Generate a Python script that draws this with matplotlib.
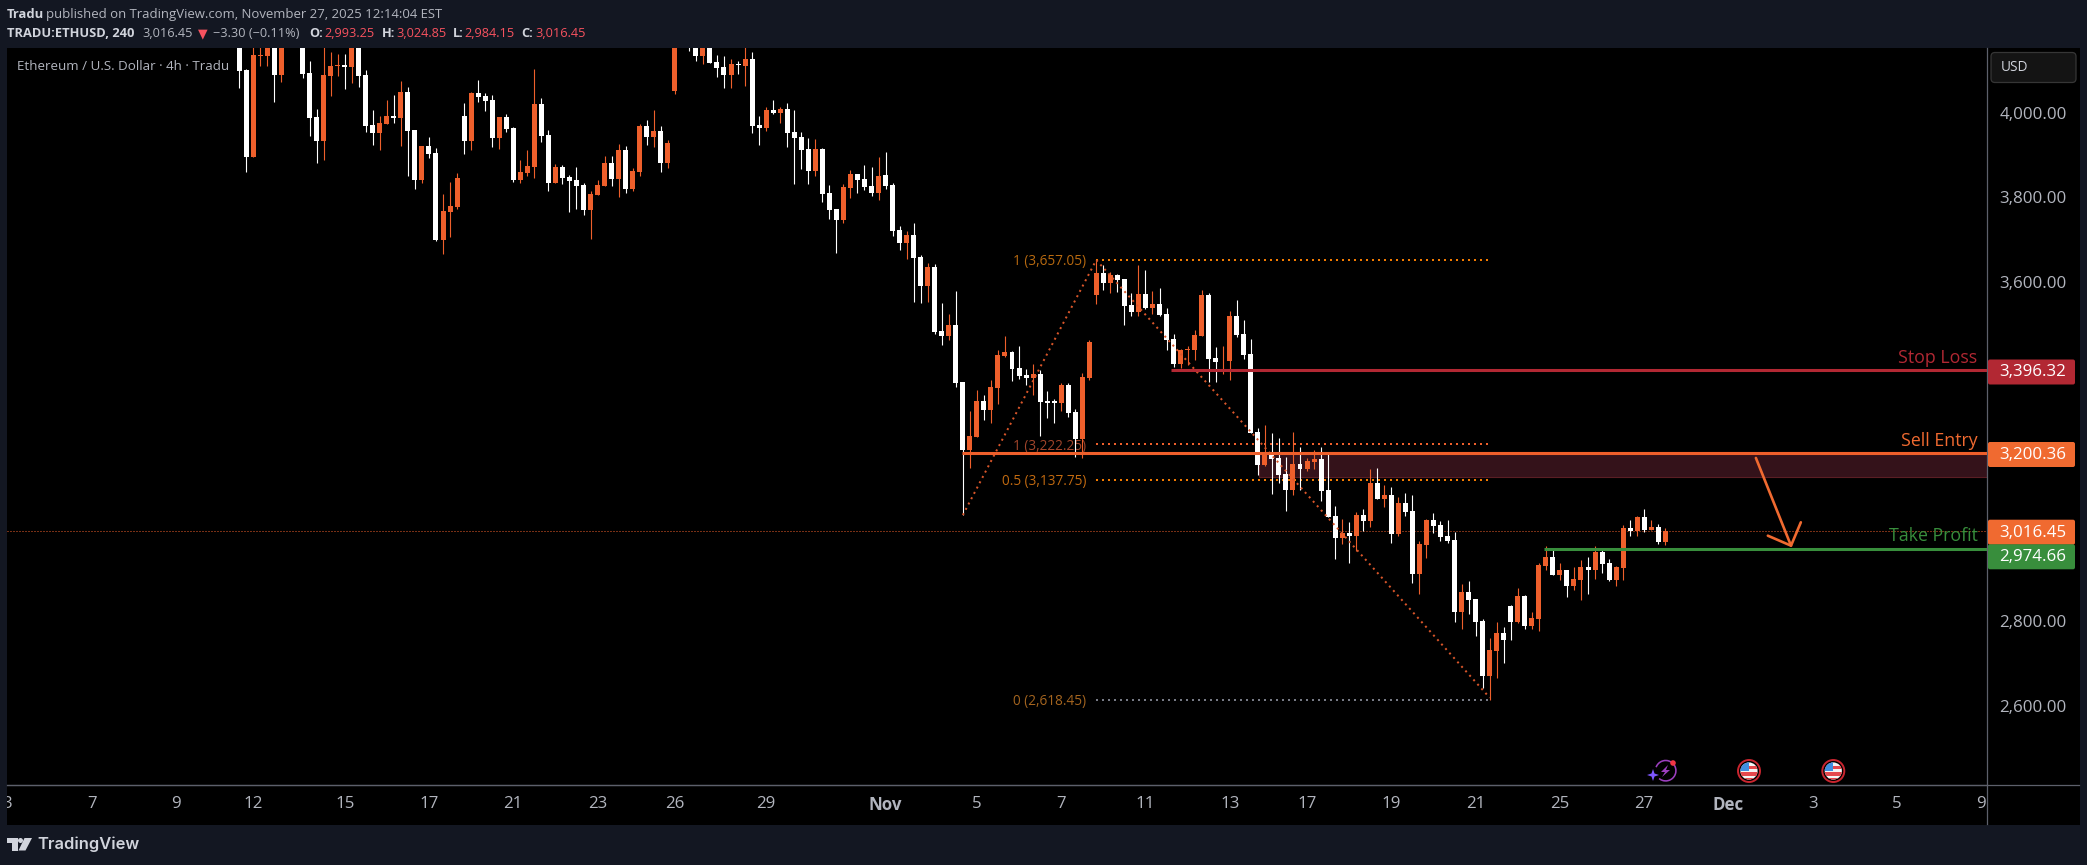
import numpy as np
import matplotlib
matplotlib.use("Agg")
import matplotlib.pyplot as plt
from matplotlib.patches import Rectangle, FancyBboxPatch, Circle, Polygon, Wedge

plt.rcParams['font.family'] = ['Open Sans', 'DejaVu Sans']

nan = np.nan

# 4h candles, hidden ones (above the pane) are nan
opens = [
    4170,4105,3900,4139,4139,4170,4094,nan,nan,4170,
    4098,3995,3938,4091,4115,4117,4113,4170,4094,3976,
    3957,3978,3997,3992,4054,3964,3846,3926,3910,3704,
    3770,3782,3997,3938,4051,4044,4035,3945,3995,3969,
    3846,3862,3877,4025,3952,3839,3877,3853,3846,3834,
    3775,3810,3832,3886,3848,3917,3825,3865,3973,3947,
    3961,3886,4056,nan,4190,4170,4139,4170,4124,4113,
    4094,4120,4115,4131,3976,3969,4011,4004,4013,3959,
    3947,3919,3867,3919,3815,3777,3751,3827,3860,3848,
    3832,3815,3858,3834,3728,3697,3716,3664,3596,3640,
    3490,3478,3504,3369,3209,3239,3324,3303,3355,3431,
    3440,3402,3386,3379,3388,3324,3324,3320,3362,3298,
    3235,3379,3574,3626,3603,3622,3612,3551,3534,3577,
    3544,3553,3530,3471,3412,3444,3445,3478,3574,3426,
    3420,3419,3525,3482,3435,3251,3173,3204,3190,3152,
    3114,3176,3164,3180,3187,3114,3053,3001,3013,3006,
    3055,3041,3131,3093,3102,3010,3084,3065,2916,2984,
    3043,3032,3006,2996,2826,2873,2857,2805,2675,2734,
    2777,2840,2803,2864,2793,2810,2935,2956,2914,2925,
    2888,2902,2932,2925,2968,2942,2902,2930,3025,3017,
    3050,3020,3027,2991,
]
closes = [
    4103,3900,4141,4141,4165,4094,4170,nan,nan,4096,
    3992,3938,4094,4115,4117,4113,4170,4091,3973,3957,
    3980,3997,3992,4054,3961,3846,3926,3907,3704,3773,
    3784,3851,3938,4051,4042,4032,3945,3995,3966,3846,
    3865,3879,4025,3950,3839,3877,3851,3843,3832,3775,
    3813,3834,3886,3848,3917,3825,3867,3973,3947,3961,
    3886,3933,4170,nan,4170,4139,4170,4122,4110,4094,
    4120,4117,4131,3973,3969,4011,4004,4013,3957,3945,
    3917,3867,3919,3813,3775,3751,3829,3860,3846,3829,
    3815,3855,3832,3725,3697,3716,3662,3596,3640,3487,
    3478,3504,3367,3209,3242,3324,3303,3357,3433,3440,
    3400,3383,3379,3388,3322,3320,3320,3362,3296,3235,
    3381,3464,3626,3603,3622,3610,3549,3534,3577,3544,
    3553,3527,3468,3412,3445,3447,3480,3574,3423,3416,
    3421,3525,3480,3433,3249,3173,3204,3187,3150,3114,
    3176,3164,3183,3187,3112,3050,3001,3013,3006,3055,
    3041,3131,3093,3102,3010,3084,3062,2916,2987,3043,
    3029,3003,2994,2826,2873,2855,2803,2675,2737,2777,
    2760,2803,2864,2793,2812,2937,2956,2914,2925,2888,
    2904,2932,2925,2968,2939,2902,2932,3025,3017,3050,
    3020,3027,2991,3017,
]
highs = [
    4185,4108,4175,4170,4175,4180,4180,nan,nan,4180,
    4127,4013,4175,4148,4143,4143,4175,4175,4105,4011,
    3997,4035,4046,4080,4065,3964,3926,3947,3921,3813,
    3841,3862,4028,4054,4082,4051,4046,3995,4002,3971,
    3893,3917,4108,4039,3964,3884,3881,3858,3877,3839,
    3820,3846,3902,3902,3931,3926,3874,3978,3987,4011,
    3973,3940,4180,nan,4195,4175,4175,4175,4141,4139,
    4131,4127,4170,4148,3997,4018,4035,4018,4028,4011,
    3959,3945,3943,3921,3834,3777,3836,3869,3860,3881,
    3877,3900,3912,3839,3737,3725,3744,3669,3650,3648,
    3556,3530,3584,3369,3301,3350,3338,3374,3445,3478,
    3442,3454,3400,3412,3397,3348,3329,3367,3367,3305,
    3390,3468,3657,3645,3629,3624,3612,3579,3645,3633,
    3584,3591,3544,3482,3447,3454,3492,3586,3579,3452,
    3454,3537,3563,3515,3471,3261,3268,3249,3237,3192,
    3251,3216,3190,3209,3216,3204,3076,3046,3039,3062,
    3069,3164,3166,3126,3121,3098,3107,3102,2994,3046,
    3060,3041,3043,3015,2892,2899,2857,2810,2765,2803,
    2791,2843,2883,2866,2826,2942,2982,2977,2942,2925,
    2932,2949,2956,2982,2973,2951,2935,3032,3043,3053,
    3069,3043,3034,3024,
]
lows = [
    4063,3865,3900,4115,4115,4030,4077,nan,nan,4087,
    3950,3886,3893,4044,4091,4061,4075,4065,3959,3928,
    3917,3978,3980,3926,3855,3825,3839,3898,3702,3671,
    3711,3777,3907,3917,4030,4009,3924,3919,3959,3841,
    3839,3855,3851,3936,3820,3839,3836,3770,3777,3763,
    3707,3810,3832,3832,3806,3815,3820,3855,3928,3924,
    3865,3874,4049,nan,4150,4127,4120,4122,4089,4063,
    4063,4096,4068,3957,3928,3961,4002,3980,3924,3836,
    3872,3836,3855,3794,3754,3674,3744,3803,3815,3822,
    3808,3799,3825,3714,3681,3659,3558,3556,3558,3482,
    3456,3468,3357,3055,3166,3239,3279,3272,3317,3428,
    3371,3376,3362,3338,3242,3284,3272,3301,3287,3192,
    3190,3374,3553,3586,3579,3582,3504,3525,3525,3541,
    3530,3525,3445,3405,3402,3409,3421,3478,3369,3369,
    3388,3374,3475,3423,3249,3150,3171,3105,3131,3065,
    3102,3114,3159,3164,3088,3050,2951,2987,2942,2970,
    3017,3027,3093,3074,2989,3006,3053,2895,2869,2954,
    3013,2994,2989,2803,2786,2821,2770,2647,2618,2670,
    2706,2760,2800,2786,2786,2781,2925,2914,2902,2862,
    2878,2855,2869,2904,2918,2899,2888,2902,3006,3006,
    3015,3020,2987,2984,
]

# 3,000 / 3,200 / 3,400 sit behind the price badges
price_ticks = [2600, 2800, 3600, 3800, 4000]
date_labels = ["3","7","9","12","15","17","21","23","26","29","Nov","5","7","11","13",
               "17","19","21","25","27","Dec","3","5","9"]
date_pos = [-33,-21,-9,2,15,27,39,51,62,75,92,105,117,129,141,152,164,176,188,200,212,224,236,248]

# fib levels: (label, price, colour of line, colour of text)
fib_labels = ["1 (3,657.05)", "1 (3,222.25)", "0.5 (3,137.75)", "0 (2,618.45)"]
fib_prices = [3657.05, 3222.25, 3137.75, 2618.45]
fib_colors = ["#F57C00", "#EE5F2B", "#F57C00", "#787B86"]
fib_text_colors = ["#B86A10", "#A2452B", "#C26A10", "#A5651F"]

# dotted path of the two drawn swings
swing_x = [103, 122, 178]
swing_y = [3055, 3657.05, 2624]

stop_price = 3396.32
entry_price = 3200.36
last_price = 3016.45
target_price = 2974.66
zone_top = 3204.6
zone_bottom = 3145.6

arrow_x = [215.9, 220.9]
arrow_y = [3189.7, 2982.7]
head_x = [217.6, 220.9, 222.3]
head_y = [3006.3, 2982.7, 3037.9]

BG = "#131722"
ORANGE = "#EE5F2B"
RED = "#B22833"
GREEN = "#388E3C"
BADGE_ORANGE = "#F06A30"
GRID_LINE = "#5D606B"
TXT = "#B2B5BE"

W, H = 2087, 865
fig = plt.figure(figsize=(W / 100, H / 100), dpi=100, facecolor=BG)

# black pane under everything
bg = fig.add_axes([0, 0, 1, 1], zorder=0)
bg.set_xlim(0, W)
bg.set_ylim(H, 0)
bg.axis("off")
bg.add_patch(Rectangle((7, 48), 2073, 777, fc="black", ec="none"))

# main chart, candle index on x and price on y
ax = fig.add_axes([7 / W, 1 - 785 / H, 1980 / W, 737 / H], zorder=2)
ax.set_facecolor("black")
ax.set_xlim(-33.07, 248.8)
ax.set_ylim(2417.8, 4157.4)
for s in ["top", "left"]:
    ax.spines[s].set_visible(False)
ax.spines["right"].set_color(GRID_LINE)
ax.spines["bottom"].set_color(GRID_LINE)
ax.spines["right"].set_linewidth(0.9)
ax.spines["bottom"].set_linewidth(0.9)

ax.yaxis.tick_right()
ax.set_yticks(price_ticks, [f"{p:,.2f}" for p in price_ticks])
ax.tick_params(axis="y", length=0, pad=9, labelsize=12.2, labelcolor=TXT)
for lab in ax.get_yticklabels():
    lab.set_va("center")
ax.set_xticks(date_pos, date_labels)
ax.tick_params(axis="x", length=0, pad=8, labelsize=12.2, labelcolor=TXT)
for lab in ax.get_xticklabels():
    if lab.get_text() in ("Nov", "Dec"):
        lab.set_fontweight("bold")

idx = np.arange(len(opens))
o = np.array(opens, dtype=float)
c = np.array(closes, dtype=float)
colors = np.where(c > o, ORANGE, "#FFFFFF")

# zone and dotted levels go under the candles
ax.add_patch(Rectangle((145.1, zone_bottom), 110, zone_top - zone_bottom,
                       fc="#34121A", ec="#5A1E24", lw=0.8, zorder=1))
ax.axhline(last_price, color=ORANGE, lw=0.72, ls=(0, (1, 2)), zorder=1.5)
for lab, p, col, tcol in zip(fib_labels, fib_prices, fib_colors, fib_text_colors):
    ax.plot([122, 177.8], [p, p], color=col, lw=1.44, ls=(0, (1, 2)), zorder=1.5,
            dash_capstyle="butt")
    ax.text(120.6, p, lab, color=tcol, ha="right", va="center_baseline", fontsize=9.8, zorder=1.6)

ax.vlines(idx, lows, highs, colors=colors, lw=0.8, zorder=2)
ax.bar(idx, c - o, bottom=o, width=0.71, color=colors, linewidth=0, zorder=3)

ax.plot(swing_x, swing_y, color="#D9562A", lw=1.44, ls=(0, (1, 2)), zorder=4)

# trade levels
ax.plot([132.7, 250], [stop_price] * 2, color=RED, lw=2.2, zorder=5, solid_capstyle="butt")
ax.plot([102.9, 250], [entry_price] * 2, color=ORANGE, lw=2.2, zorder=5, solid_capstyle="butt")
ax.plot([185.8, 250], [target_price] * 2, color=GREEN, lw=2.2, zorder=5, solid_capstyle="butt")
ax.plot(arrow_x, arrow_y, color=BADGE_ORANGE, lw=1.9, zorder=6, solid_capstyle="round")
ax.plot(head_x, head_y, color=BADGE_ORANGE, lw=1.9, zorder=6, solid_capstyle="round",
        solid_joinstyle="round")

# pixel layer for the labels, badges and the bits of TradingView chrome
px = fig.add_axes([0, 0, 1, 1], zorder=5)
px.set_xlim(0, W)
px.set_ylim(H, 0)
px.axis("off")
px.add_patch(Rectangle((0, 48), 7, 780, fc=BG, ec="none"))

px.plot([7, 2079], [785, 785], color=GRID_LINE, lw=0.9)
px.plot([1987, 1987], [786, 824], color=GRID_LINE, lw=0.9)

for name, col, y in [("Stop Loss", RED, 358), ("Sell Entry", BADGE_ORANGE, 441), ("Take Profit", GREEN, 536)]:
    px.text(1977.5, y, name, color=col, ha="right", va="center", fontsize=12.8)

badge_vals = [stop_price, entry_price, last_price, target_price]
badge_cols = [RED, BADGE_ORANGE, BADGE_ORANGE, GREEN]
badge_tops = [359.5, 442, 519.7, 544.3]
for val, col, top in zip(badge_vals, badge_cols, badge_tops):
    px.add_patch(FancyBboxPatch((1988, top), 87, 25, boxstyle="round,pad=0,rounding_size=2",
                                fc=col, ec="none", mutation_scale=1))
    px.text(2033, top + 13, f"{val:,.2f}", color="white", ha="center", va="center", fontsize=12.2)

# USD box
px.add_patch(FancyBboxPatch((1991, 52.5), 85, 30, boxstyle="round,pad=0,rounding_size=4",
                            fc="#141414", ec="#363636", lw=0.9, mutation_scale=1))
px.text(2001, 67.5, "USD", color="#D1D4DC", ha="left", va="center", fontsize=9.8)

# header
px.text(7, 14.5, "Tradu", color="#D1D4DC", fontsize=9.4, fontweight="bold", va="center")
px.text(45.5, 14.5, "published on TradingView.com, November 27, 2025 12:14:04 EST", color="#B2B5BE",
        fontsize=9.45, va="center")
px.text(7, 33.5, "TRADU:ETHUSD, 240", color="#D1D4DC", fontsize=9.3, fontweight="bold", va="center")
px.text(142.5, 33.5, "3,016.45", color="#B2B5BE", fontsize=9.2, va="center")
px.text(198, 33.5, "▼", color="#F7525F", fontsize=9, va="center", family="DejaVu Sans")
px.text(213, 33.5, "−3.30 (−0.11%)", color="#B2B5BE", fontsize=9.2, va="center")
for lab, x_lab, val, x_val in [("O:", 309.5, "2,993.25", 324.6), ("H:", 381.7, "3,024.85", 396.4),
                               ("L:", 453, "2,984.15", 464.7), ("C:", 521.4, "3,016.45", 535.7)]:
    px.text(x_lab, 33.5, lab, color="#D1D4DC", fontsize=9.2, fontweight="bold", va="center")
    px.text(x_val, 33.5, val, color="#F7525F", fontsize=9.2, va="center")
px.text(17, 67, "Ethereum / U.S. Dollar · 4h · Tradu", color="#B2B5BE", fontsize=9.6, va="center")

# logo
logo = "#D1D4DC"
px.add_patch(Polygon([(7, 838), (17.5, 838), (17.5, 850.5), (12, 850.5), (12, 843), (7, 843)], fc=logo, ec="none"))
px.add_patch(Circle((20.5, 840.5), 2.5, fc=logo, ec="none"))
px.add_patch(Polygon([(24.5, 838), (32, 838), (25.5, 850.5), (18.5, 850.5)], fc=logo, ec="none"))
px.text(37, 844, "TradingView", color=logo, fontsize=11.9, fontweight="semibold", va="center",
        family="Inter")

# event icons on the time axis
px.add_patch(Wedge((1665.7, 770.7), 11, -160, 130, width=1.6, fc="#9C3FBF", ec="none"))
px.add_patch(Polygon([(1668, 765), (1661, 772), (1665, 772), (1662, 777), (1670, 770), (1666, 770)],
                     fc="#9C3FBF", ec="none"))
px.add_patch(Circle((1673, 763), 2.8, fc="#F23645", ec="none"))
px.add_patch(Polygon([(1653, 769), (1654.5, 773.5), (1659, 775), (1654.5, 776.5), (1653, 781),
                      (1651.5, 776.5), (1647, 775), (1651.5, 773.5)], fc="#7E57FF", ec="none"))
for cx in [1749, 1833.3]:
    px.add_patch(Circle((cx, 771), 11, fc="black", ec="#C9252F", lw=1.4))
    inner = Circle((cx, 771), 8.6, transform=px.transData, fc="none", ec="none")
    px.add_patch(inner)
    for top, hgt, col in [(762, 18, "#F4F4F4"), (766, 3, "#E5484D"), (772, 3.5, "#E5484D"), (778, 3, "#E5484D")]:
        r = Rectangle((cx - 9, top), 18, hgt, fc=col, ec="none")
        px.add_patch(r)
        r.set_clip_path(inner)
    r = Rectangle((cx - 9, 762), 9, 9, fc="#3F8FE0", ec="none")
    px.add_patch(r)
    r.set_clip_path(inner)

fig.savefig("out.png", dpi=100, facecolor=BG)
